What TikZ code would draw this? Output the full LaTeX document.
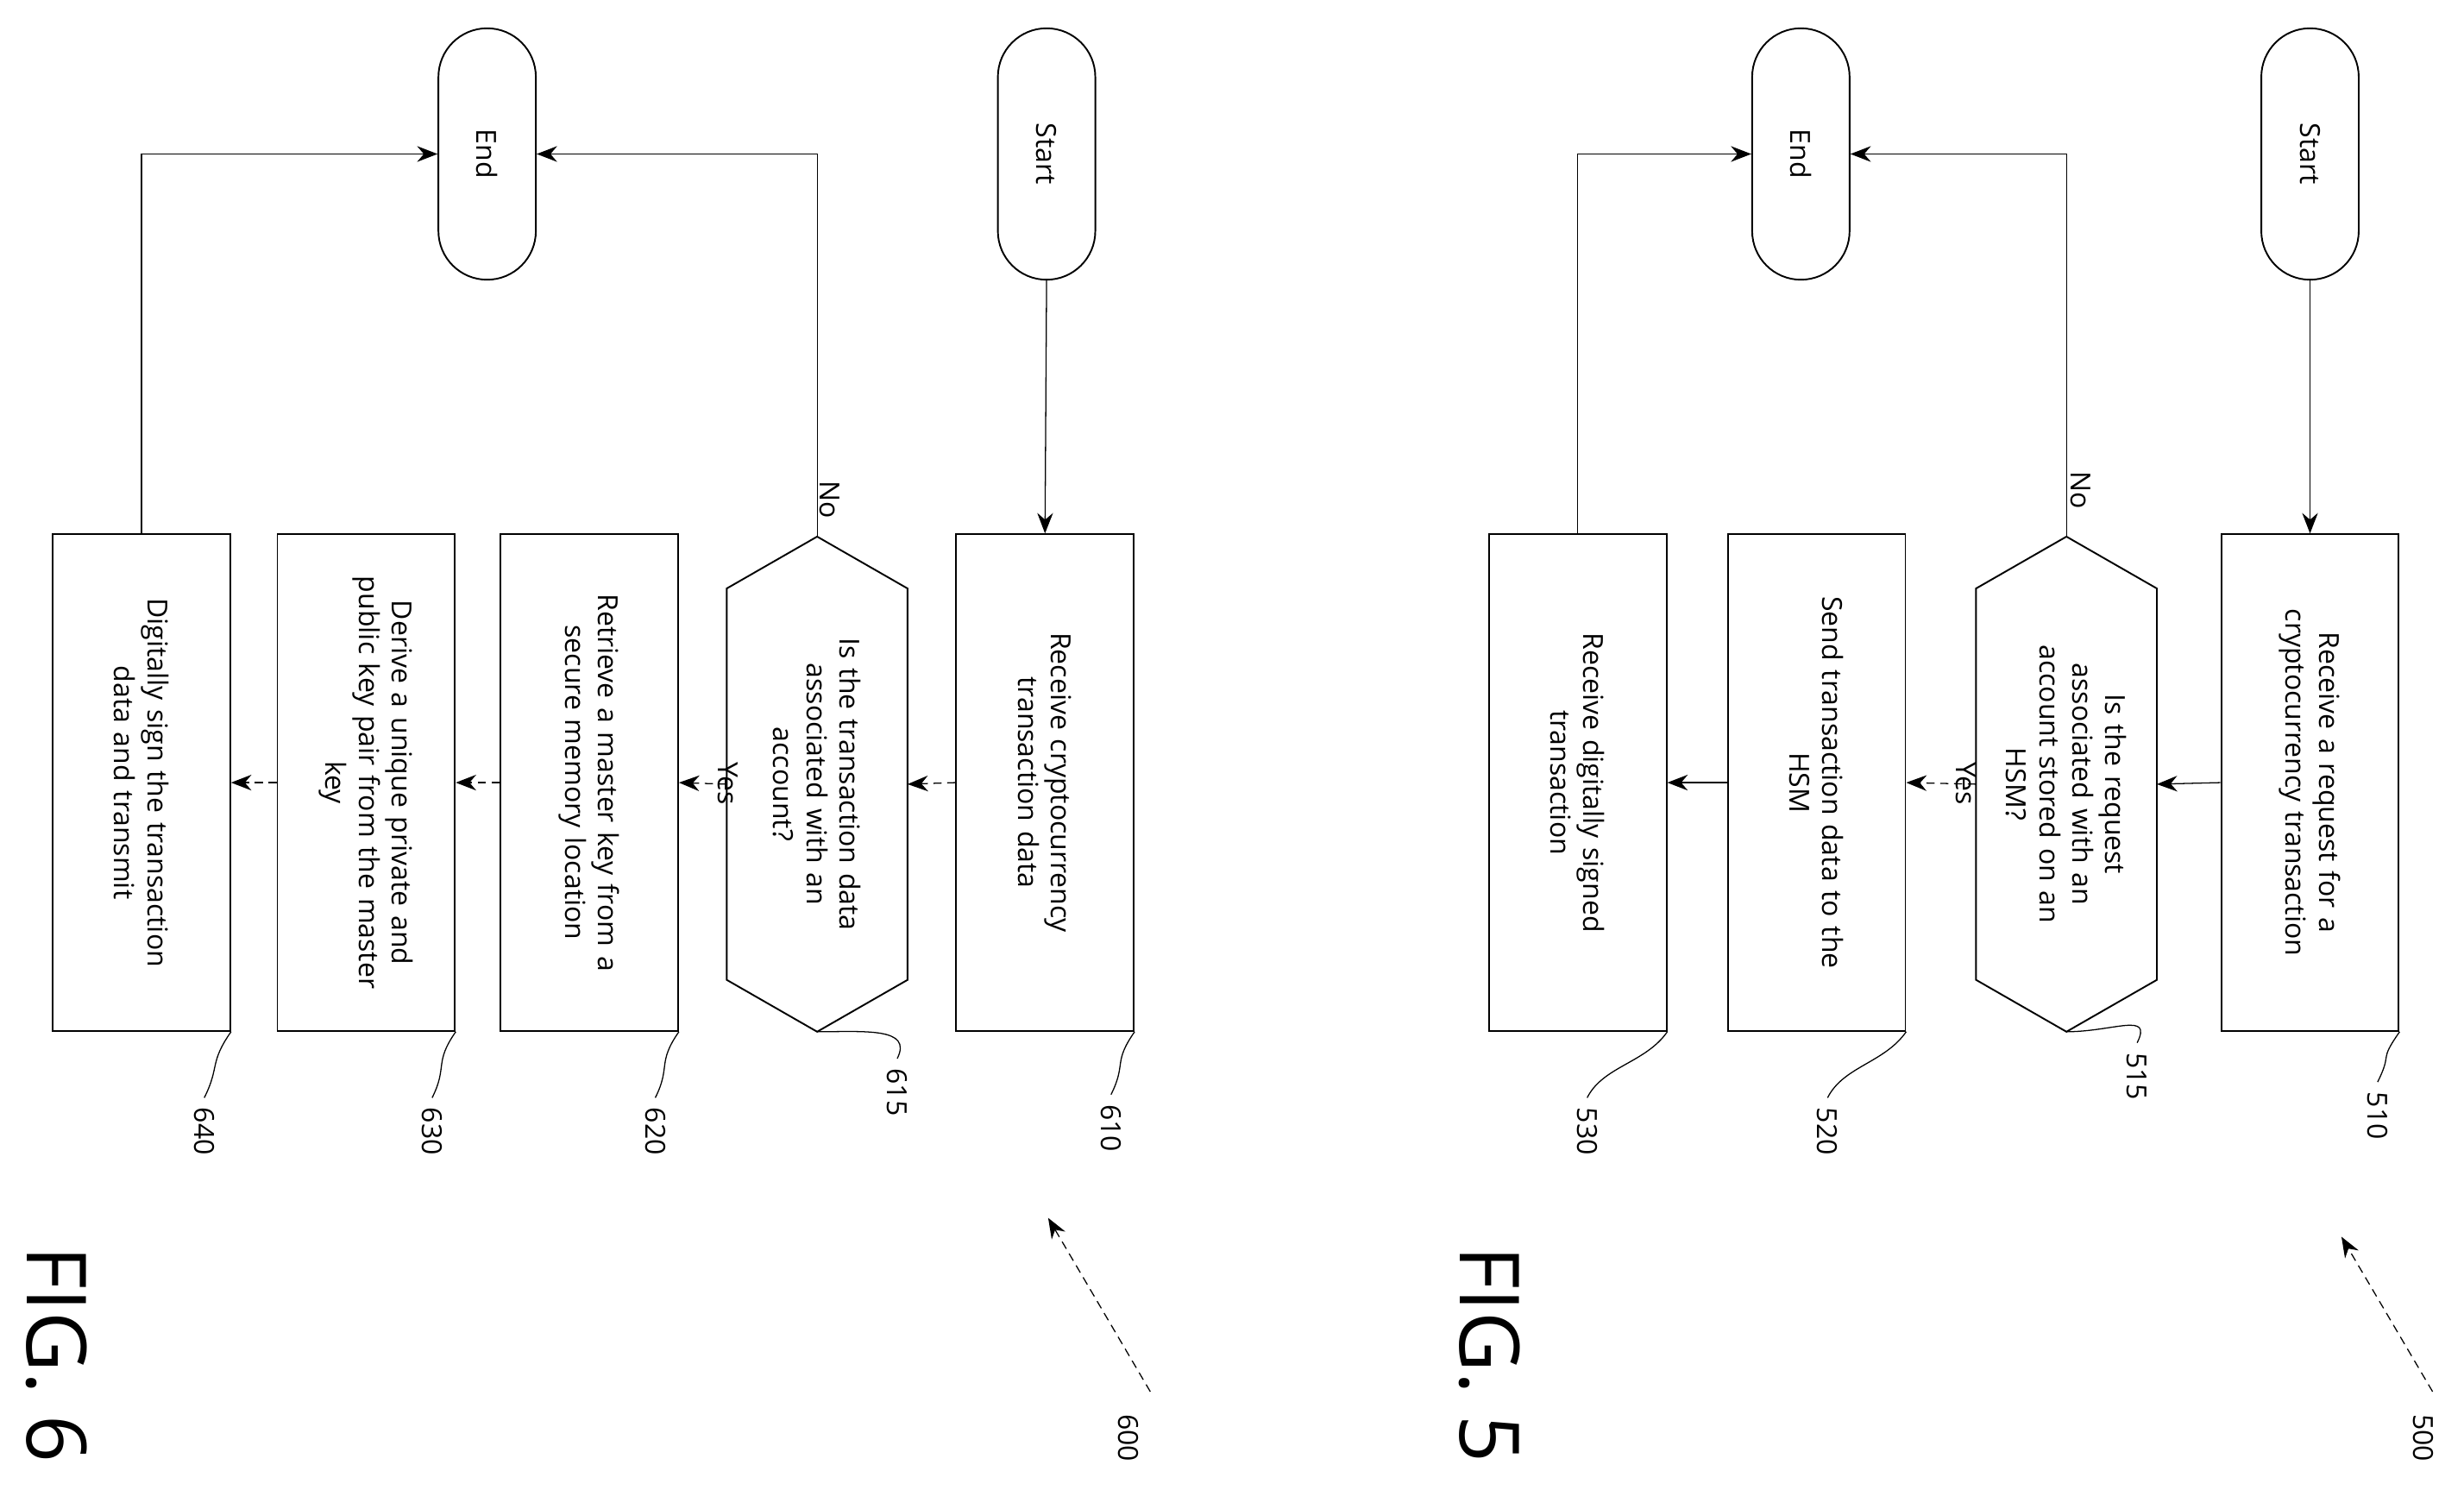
\documentclass[tikz,border=0pt]{standalone}
\usepackage{fontspec}
\setmainfont{Open Sans}
\usetikzlibrary{calc,arrows.meta}

\begin{document}
\begin{tikzpicture}
[x=0.2mm,y=-0.2mm,>={Stealth[length=2.6mm,width=2mm]},semithick,
 font=\fontsize{10}{12}\selectfont]

  \tikzstyle{term}=[draw,rotate=-90,rounded corners=6.2mm,minimum width=32mm,minimum height=12.4mm]
  \tikzstyle{proc}=[draw,rotate=-90,align=center,text width=58mm,minimum width=63.2mm,minimum height=22.6mm]
  \tikzstyle{test}=[rotate=-90,align=center,text width=44mm,inner sep=0pt,
                    minimum width=62.8mm,minimum height=22.8mm]
  \tikzstyle{ref}=[rotate=-90]
  \tikzstyle{flow}=[->,thin,densely dashed]
  \tikzstyle{back}=[->,thin]
  \newcommand{\hexa}[1]{\draw (#1.west) -- ($(#1.north west)+(0,33)$) -- ($(#1.north east)+(0,-33)$)
     -- (#1.east) -- ($(#1.south east)+(0,-33)$) -- ($(#1.south west)+(0,33)$) -- cycle;}

  \useasboundingbox (0,0) rectangle (1568,960);

  % FIG. 6
  \node[term] (start6) at (666,98)  {Start};
  \node[term] (end6)   at (310,98)  {End};
  \node[proc] (b610)   at (665,498) {\hyphenpenalty=10000 Receive cryptocurrency\\transaction data};
  \node[test] (d615)   at (520,499) {\hyphenpenalty=10000 Is the transaction data\\associated with an\\account?};
  \hexa{d615}
  \node[proc] (b620)   at (375,498) {\hyphenpenalty=10000 Retrieve a master key from a\\secure memory location};
  \node[proc] (b630)   at (233,498) {\hyphenpenalty=10000 Derive a unique private and\\public key pair from the master\\key};
  \node[proc] (b640)   at (90,498)  {\hyphenpenalty=10000 Digitally sign the transaction\\data and transmit};

  \draw[back] (start6.east) -- (b610.west);
  \draw[flow] (b610.south) -- (d615.north);
  \draw[flow] (d615.south) -- node[ref,above=2pt] {Yes} (b620.north);
  \draw[flow] (b620.south) -- (b630.north);
  \draw[flow] (b630.south) -- (b640.north);
  \draw[back] (d615.west) |- (end6.north);
  \draw[back] (b640.west) |- (end6.south);
  \node[ref] (no6) at (528,318) {No};

  \node[ref] (l610) at (707,718) {610};
  \node[ref] (l615) at (571,695) {615};
  \node[ref] (l620) at (417,720) {620};
  \node[ref] (l630) at (275,720) {630};
  \node[ref] (l640) at (130,720) {640};
  \draw[thin] (b610.north east) .. controls +(-14,20) and +(10,-20) .. (l610.west);
  \draw[thin] (d615.east) .. controls +(30,0) and +(10,-20) .. (l615.west);
  \draw[thin] (b620.north east) .. controls +(-14,20) and +(10,-20) .. (l620.west);
  \draw[thin] (b630.north east) .. controls +(-14,20) and +(10,-20) .. (l630.west);
  \draw[thin] (b640.north east) .. controls +(-14,20) and +(10,-20) .. (l640.west);

  \node[ref] (n600) at (718,915) {600};
  \draw[->,thin,densely dashed] (n600.west) ++(14,-8) -- (667,775);
  \node[ref,font=\fontsize{30}{32}\selectfont] (fig6) at (36,862) {FIG. 6};

  % FIG. 5
  \node[term] (start5) at (1470,98) {Start};
  \node[term] (end5)   at (1146,98) {End};
  \node[proc] (b510)   at (1470,498) {\hyphenpenalty=10000 Receive a request for a\\cryptocurrency transaction};
  \node[test] (d515)   at (1315,499) {\hyphenpenalty=10000 Is the request\\associated with an\\account stored on an\\HSM?};
  \hexa{d515}
  \node[proc] (b520)   at (1156,498) {\hyphenpenalty=10000 Send transaction data to the\\HSM};
  \node[proc] (b530)   at (1004,498) {\hyphenpenalty=10000 Receive digitally signed\\transaction};

  \draw[back] (start5.east) -- (b510.west);
  \draw[back] (b510.south) -- (d515.north);
  \draw[flow] (d515.south) -- node[ref,above=2pt] {Yes} (b520.north);
  \draw[back] (b520.south) -- (b530.north);
  \draw[back] (d515.west) |- (end5.north);
  \draw[back] (b530.west) |- (end5.south);
  \node[ref] (no5) at (1324,312) {No};

  \node[ref] (l510) at (1513,710) {510};
  \node[ref] (l515) at (1360,685) {515};
  \node[ref] (l520) at (1163,720) {520};
  \node[ref] (l530) at (1010,720) {530};
  \draw[thin] (b510.north east) .. controls +(-14,20) and +(10,-20) .. (l510.west);
  \draw[thin] (d515.east) .. controls +(30,0) and +(10,-20) .. (l515.west);
  \draw[thin] (b520.north east) .. controls +(-14,20) and +(10,-20) .. (l520.west);
  \draw[thin] (b530.north east) .. controls +(-14,20) and +(10,-20) .. (l530.west);

  \node[ref] (n500) at (1542,915) {500};
  \draw[->,thin,densely dashed] (n500.west) ++(6,-8) -- (1490,787);
  \node[ref,font=\fontsize{30}{32}\selectfont] (fig5) at (948,862) {FIG. 5};
\end{tikzpicture}
\end{document}
